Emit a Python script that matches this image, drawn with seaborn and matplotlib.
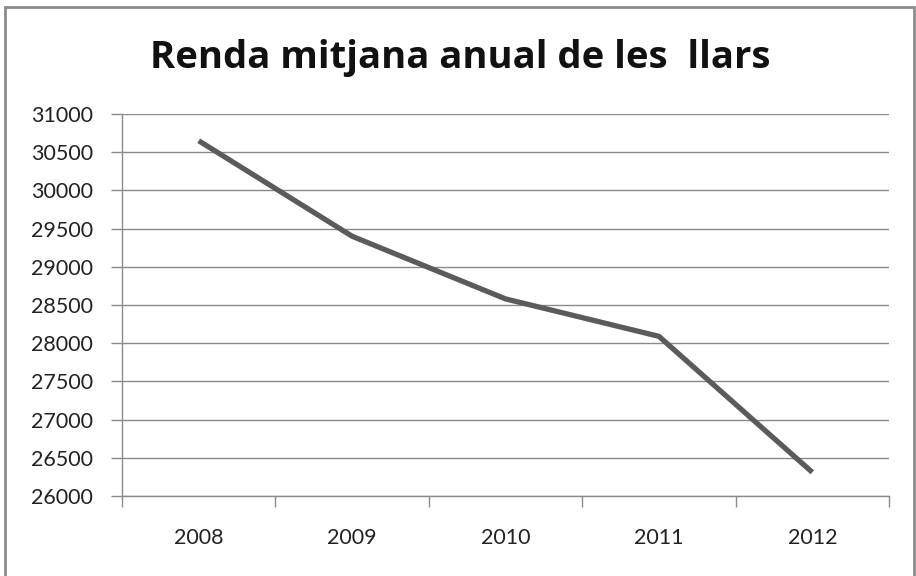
import matplotlib
matplotlib.use("Agg")
import matplotlib.pyplot as plt
from matplotlib.patches import Rectangle
import pandas as pd
import seaborn as sns

# Data
years = ["2008", "2009", "2010", "2011", "2012"]
renda = [30650, 29400, 28580, 28090, 26310]
y_ticks = list(range(26000, 31001, 500))

df = pd.DataFrame({"pos": range(len(years)), "renda": renda})

sns.set_style("white")
plt.rcParams["font.family"] = ["Lato", "DejaVu Sans"]

fig = plt.figure(figsize=(9.16, 5.76), dpi=100)
ax = fig.add_axes([122 / 916, 1 - 496 / 576, (889 - 122) / 916, (496 - 114) / 576])

grid_col = "#8a8a8a"
sns.lineplot(data=df, x="pos", y="renda", ax=ax, color="#5b5b5b",
             linewidth=3.8, solid_capstyle="butt")

ax.set_xlim(-0.5, len(years) - 0.5)
ax.set_ylim(26000, 31000)
ax.set_yticks(y_ticks)
ax.set_yticklabels([str(v) for v in y_ticks])
ax.yaxis.grid(True, color=grid_col, linewidth=1)
ax.set_axisbelow(True)

# category axis: ticks between categories, labels at centers
ax.set_xticks([i - 0.5 for i in range(len(years) + 1)])
ax.set_xticklabels([])
ax.set_xticks(range(len(years)), minor=True)
ax.set_xticklabels(years, minor=True)
ax.tick_params(axis="x", which="major", bottom=True, length=8, width=1,
               color=grid_col, direction="out")
ax.tick_params(axis="x", which="minor", bottom=True, length=0, pad=23,
               labelsize=15.5, labelcolor="#222222")
ax.tick_params(axis="y", left=True, length=8, width=1, color=grid_col,
               direction="out", pad=13, labelsize=15.5, labelcolor="#222222")

for s in ["top", "right"]:
    ax.spines[s].set_visible(False)
for s in ["left", "bottom"]:
    ax.spines[s].set_color(grid_col)
    ax.spines[s].set_linewidth(1)

ax.set_xlabel("")
ax.set_ylabel("")

fig.text(460 / 916, 1 - 58 / 576, "Renda mitjana anual de les  llars",
         ha="center", va="center", fontsize=27.5, fontweight="bold",
         color="#111111", family=["Open Sans", "DejaVu Sans"])

# chart area border
fig.add_artist(Rectangle((5 / 916, -0.05), (914 - 5) / 916, 1.05 - 7 / 576,
                         transform=fig.transFigure, fill=False,
                         edgecolor="#8c8c8c", linewidth=2))

fig.savefig("out.png", dpi=100)
